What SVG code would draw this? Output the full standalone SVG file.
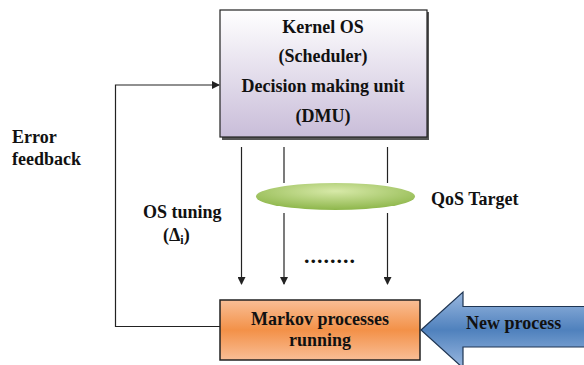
<svg xmlns="http://www.w3.org/2000/svg" width="584" height="365" viewBox="0 0 584 365">
<style>
text{font-family:"Liberation Serif","Times New Roman",serif;font-weight:bold;font-size:18px;fill:#111;}
.c{text-anchor:middle;}
.ln{stroke:#222;stroke-width:1.2;fill:none;}
</style>
<defs>
<linearGradient id="gTop" x1="0" y1="0" x2="0" y2="1">
<stop offset="0" stop-color="#ffffff"/>
<stop offset="1" stop-color="#c9bdd9"/>
</linearGradient>
<linearGradient id="gOr" x1="0" y1="0" x2="0" y2="1">
<stop offset="0" stop-color="#f9be96"/>
<stop offset="0.5" stop-color="#f39148"/>
<stop offset="1" stop-color="#f9be96"/>
</linearGradient>
<linearGradient id="gBl" x1="0" y1="0" x2="0" y2="1">
<stop offset="0" stop-color="#9ab8e0"/>
<stop offset="0.5" stop-color="#4f81bd"/>
<stop offset="1" stop-color="#9ab8e0"/>
</linearGradient>
<radialGradient id="gGr" cx="0.5" cy="0.3" r="0.7">
<stop offset="0" stop-color="#d7e9a8"/>
<stop offset="1" stop-color="#8db64a"/>
</radialGradient>
<marker id="ah" markerWidth="8" markerHeight="8" refX="7" refY="4" orient="auto" markerUnits="userSpaceOnUse">
<path d="M0,0 L8,4 L0,8 Z" fill="#222"/>
</marker>
</defs>

<g id="connectors">
<line class="ln" x1="241.5" y1="147" x2="241.5" y2="284" marker-end="url(#ah)"/>
<line class="ln" x1="284" y1="147" x2="284" y2="183"/>
<line class="ln" x1="284" y1="213" x2="284" y2="284" marker-end="url(#ah)"/>
<line class="ln" x1="387.5" y1="147" x2="387.5" y2="183"/>
<line class="ln" x1="387.5" y1="213" x2="387.5" y2="284" marker-end="url(#ah)"/>
<polyline class="ln" points="220,326.5 115.5,326.5 115.5,85 219,85" marker-end="url(#ah)"/>
</g>

<g id="kernel">
<rect x="222" y="12" width="207" height="128" fill="#555"/>
<rect x="220" y="10" width="207" height="127" fill="url(#gTop)" stroke="#222" stroke-width="1.2"/>
<text class="c" x="323" y="33">Kernel OS</text>
<text class="c" x="323" y="62">(Scheduler)</text>
<text class="c" x="323" y="92">Decision making unit</text>
<text class="c" x="323" y="122">(DMU)</text>
</g>

<g id="qos">
<ellipse cx="335.5" cy="196.5" rx="79.5" ry="13.5" fill="url(#gGr)"/>
<text x="431" y="205">QoS Target</text>
</g>

<g id="dots">
<text x="304" y="263" style="font-size:22px;letter-spacing:1px">........</text>
</g>

<g id="markov">
<rect x="220" y="300" width="200" height="60" fill="url(#gOr)" stroke="#222" stroke-width="1.5"/>
<text class="c" x="320" y="325">Markov processes</text>
<text class="c" x="320" y="346">running</text>
</g>

<g id="newprocess">
<path d="M421,330 L463,292 L463,306.5 L586,306.5 L586,347 L463,347 L463,368 Z" fill="url(#gBl)" stroke="#1f3552" stroke-width="1.2"/>
<text x="466" y="329">New process</text>
</g>

<g id="labels">
<text x="12" y="143">Error</text>
<text x="12" y="165">feedback</text>
<text x="143" y="218">OS tuning</text>
<text x="163" y="241">(Δ<tspan style="font-size:12px" dy="3">i</tspan><tspan dy="-3">)</tspan></text>
</g>
</svg>
